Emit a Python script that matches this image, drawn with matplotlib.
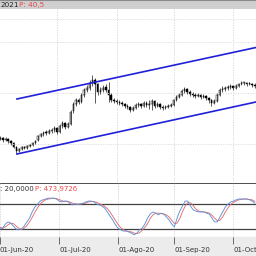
import matplotlib
matplotlib.use("Agg")
import matplotlib.pyplot as plt

# daily OHLC, bar index 0 = 01-Jun-20
opens = [35.1, 34.9, 35.0, 34.8, 34.9, 34.7, 34.5, 34.1, 33.7, 33.9,
         34.1, 34.0, 34.2, 34.3, 34.5, 34.8, 35.2, 35.4, 35.6, 35.5,
         35.7, 35.8, 36.0, 35.6, 36.2, 36.5, 36.1, 36.4, 37.7, 38.4,
         38.8, 38.6, 39.3, 39.8, 40.0, 40.5, 40.8, 40.4, 39.6, 39.8,
         40.1, 39.8, 39.3, 38.8, 38.7, 38.6, 38.5, 38.4, 38.2, 38.1,
         37.8, 38.0, 38.3, 38.4, 38.2, 38.5, 38.3, 38.4, 38.7, 38.2,
         38.4, 38.1, 38.0, 38.1, 38.2, 38.3, 38.8, 39.1, 39.3, 39.7,
         39.9, 39.6, 39.4, 39.3, 39.2, 39.3, 39.1, 39.2, 39.0, 38.8,
         38.5, 38.7, 39.3, 39.8, 39.9, 40.0, 40.1, 40.2, 40.0, 40.2,
         40.4, 40.5, 40.5, 40.4, 40.4, 40.3]
highs = [35.3, 35.2, 35.1, 35.1, 35.0, 34.8, 34.6, 34.2, 34.0, 34.2,
         34.2, 34.3, 34.4, 34.6, 34.8, 35.3, 35.5, 35.7, 35.8, 35.9,
         36.0, 36.2, 36.1, 36.4, 36.7, 36.6, 36.6, 37.8, 38.6, 39.0,
         39.0, 39.5, 40.0, 40.3, 40.8, 41.3, 41.0, 40.5, 40.1, 40.3,
         40.4, 40.6, 39.5, 39.0, 38.9, 38.8, 38.7, 38.5, 38.4, 38.2,
         38.2, 38.5, 38.6, 38.5, 38.7, 38.7, 38.8, 38.9, 38.8, 38.6,
         38.5, 38.3, 38.3, 38.4, 38.5, 38.9, 39.3, 39.5, 39.9, 40.1,
         40.0, 39.8, 39.6, 39.5, 39.5, 39.4, 39.4, 39.3, 39.1, 38.9,
         38.9, 39.5, 40.0, 40.2, 40.2, 40.3, 40.4, 40.3, 40.4, 40.5,
         40.7, 40.6, 40.6, 40.6, 40.5, 40.5]
lows = [34.8, 34.8, 34.6, 34.7, 34.5, 34.3, 34.0, 33.5, 33.6, 33.8,
        33.9, 33.9, 34.1, 34.2, 34.4, 34.7, 35.1, 35.2, 35.3, 35.4,
        35.5, 35.6, 35.4, 35.5, 36.0, 35.9, 36.0, 36.3, 37.5, 38.2,
        38.4, 38.5, 39.1, 39.6, 39.8, 40.2, 38.5, 39.3, 39.4, 39.6,
        39.6, 38.6, 38.6, 38.5, 38.4, 38.3, 38.2, 38.0, 37.9, 37.6,
        37.7, 37.9, 38.1, 38.0, 38.1, 38.1, 37.9, 37.8, 38.0, 38.1,
        37.9, 37.8, 37.9, 38.0, 38.1, 38.2, 38.7, 39.0, 39.2, 39.5,
        39.4, 39.2, 39.1, 39.0, 39.1, 38.9, 39.0, 38.8, 38.5, 38.2,
        38.4, 38.6, 39.2, 39.6, 39.7, 39.8, 39.9, 39.8, 39.9, 40.1,
        40.3, 40.3, 40.2, 40.3, 40.1, 40.0]
closes = [34.9, 35.0, 34.8, 34.9, 34.7, 34.5, 34.1, 33.7, 33.9, 34.1,
          34.0, 34.2, 34.3, 34.5, 34.7, 35.2, 35.4, 35.5, 35.5, 35.7,
          35.8, 36.0, 35.6, 36.2, 36.5, 36.1, 36.4, 37.6, 38.4, 38.8,
          38.6, 39.3, 39.8, 40.0, 40.5, 40.8, 40.4, 39.6, 39.8, 40.0,
          39.8, 39.3, 38.8, 38.7, 38.6, 38.5, 38.4, 38.2, 38.1, 37.8,
          38.0, 38.3, 38.4, 38.2, 38.5, 38.3, 38.4, 38.7, 38.2, 38.4,
          38.1, 38.0, 38.1, 38.2, 38.3, 38.8, 39.1, 39.3, 39.7, 39.9,
          39.6, 39.4, 39.3, 39.2, 39.3, 39.1, 39.2, 39.0, 38.8, 38.5,
          38.7, 39.3, 39.8, 39.9, 40.0, 40.1, 40.2, 40.0, 40.2, 40.4,
          40.5, 40.5, 40.4, 40.4, 40.3, 40.2]

# channel drawn on the chart (bar index, price)
chan_x = [7.2, 95.4]
chan_upper = [38.9, 44.05]
chan_lower = [33.4, 38.6]

# stochastic %K and %D
stoch_k = [20, 22, 32, 37, 34, 27, 20, 18, 20, 27,
           37, 46, 61, 73, 80, 87, 90, 92, 94, 94,
           94, 92, 87, 85, 87, 87, 82, 78, 80, 80,
           80, 82, 85, 87, 87, 85, 80, 78, 75, 70,
           61, 51, 42, 30, 22, 18, 15, 15, 13, 10,
           6, 10, 18, 22, 32, 46, 56, 61, 58, 54,
           58, 56, 49, 42, 32, 25, 46, 63, 75, 87,
           87, 75, 66, 63, 61, 61, 61, 58, 56, 46,
           37, 37, 49, 61, 73, 80, 85, 87, 90, 92,
           92, 92, 92, 90, 87, 82]
stoch_d = [24, 22, 25, 30, 34, 33, 27, 22, 19, 22,
           28, 37, 48, 60, 71, 80, 86, 90, 92, 93,
           94, 93, 91, 88, 86, 86, 85, 82, 80, 79,
           80, 81, 82, 85, 86, 86, 84, 81, 78, 74,
           69, 61, 51, 41, 31, 23, 18, 16, 14, 13,
           10, 9, 11, 17, 24, 33, 45, 54, 58, 58,
           57, 56, 54, 49, 41, 33, 34, 45, 61, 75,
           83, 83, 76, 68, 63, 62, 61, 60, 58, 53,
           46, 40, 41, 49, 61, 71, 79, 84, 87, 90,
           91, 92, 92, 91, 90, 86]
levels = [80, 20]

tick_idx = [0, 22, 44, 65, 87]
tick_labels = ["01-Jun-20", "01-Jul-20", "01-Ago-20", "01-Sep-20", "01-Oct-20"]

W = 256
def box(top, bottom):
    return [0, 1 - bottom / W, 1, (bottom - top) / W]

xlim = (0.96, 95.42)

fig = plt.figure(figsize=(2.56, 2.56), dpi=100, facecolor="#ececec")

# header strip
head = fig.add_axes(box(0, 9))
head.set_facecolor("#cfcfcf")
head.set_xticks([]); head.set_yticks([])
for s in head.spines.values():
    s.set_visible(False)
head.axhline(1, color="#8a8a8a", lw=1.5)
head.text(0.0, 0.4, "2021", fontsize=5.2, color="#222222", va="center", ha="left")
head.text(0.075, 0.4, "P: 40,5", fontsize=5.2, color="#e84848", va="center", ha="left")

# price panel
ax = fig.add_axes(box(9, 183))
ax.set_facecolor("white")
ax.set_xlim(*xlim)
ax.set_ylim(30.5, 47.9)
for s in ax.spines.values():
    s.set_visible(False)
ax.set_xticks([]); ax.set_yticks([])
for t in tick_idx:
    ax.axvline(t, color="#d4d4d4", lw=0.6, ls=(0, (1.5, 1.5)))
for p in [46.9, 44.6, 39.5, 34.4]:
    ax.axhline(p, color="#dadada", lw=0.6, ls=(0, (1.5, 1.5)))

for i in range(len(closes)):
    o, h, l, c = opens[i], highs[i], lows[i], closes[i]
    ax.vlines(i, l, h, color="black", lw=0.45)
    lo, hi = min(o, c), max(o, c)
    if hi - lo < 0.06:
        hi = lo + 0.06
    ax.bar(i, hi - lo, bottom=lo, width=0.55,
           color="white" if c >= o else "black", edgecolor="black", lw=0.35)

ax.plot(chan_x, chan_upper, color="#2020d8", lw=1.2)
ax.plot(chan_x, chan_lower, color="#2020d8", lw=1.2)

# stochastic panel
ax2 = fig.add_axes(box(183, 237))
ax2.set_facecolor("white")
ax2.set_xlim(*xlim)
ax2.set_ylim(0.8, 130.4)
for s in ax2.spines.values():
    s.set_visible(False)
ax2.axhline(130.4, color="#303030", lw=1.2)
ax2.axhline(0.8, color="#808080", lw=0.8)
for t in tick_idx:
    ax2.axvline(t, color="#d4d4d4", lw=0.6, ls=(0, (1.5, 1.5)))
for lv in levels:
    ax2.axhline(lv, color="#404040", lw=0.9)
xs = list(range(len(stoch_k)))
ax2.plot(xs, stoch_d, color="#e07070", lw=0.65)
ax2.plot(xs, stoch_k, color="#6090d8", lw=0.65)
ax2.text(0.0, 0.88, ": 20,0000", transform=ax2.transAxes, fontsize=5,
         color="#333333", va="center", ha="left")
ax2.text(0.135, 0.88, "P: 473,9726", transform=ax2.transAxes, fontsize=5,
         color="#e84848", va="center", ha="left")
ax2.set_yticks([])
ax2.set_xticks(tick_idx)
ax2.set_xticklabels(tick_labels, fontsize=5, color="#333333", ha="left")
ax2.tick_params(axis="x", length=5, width=0.6, color="#555555", pad=2.5)

fig.savefig("out.png", dpi=100, facecolor=fig.get_facecolor())
